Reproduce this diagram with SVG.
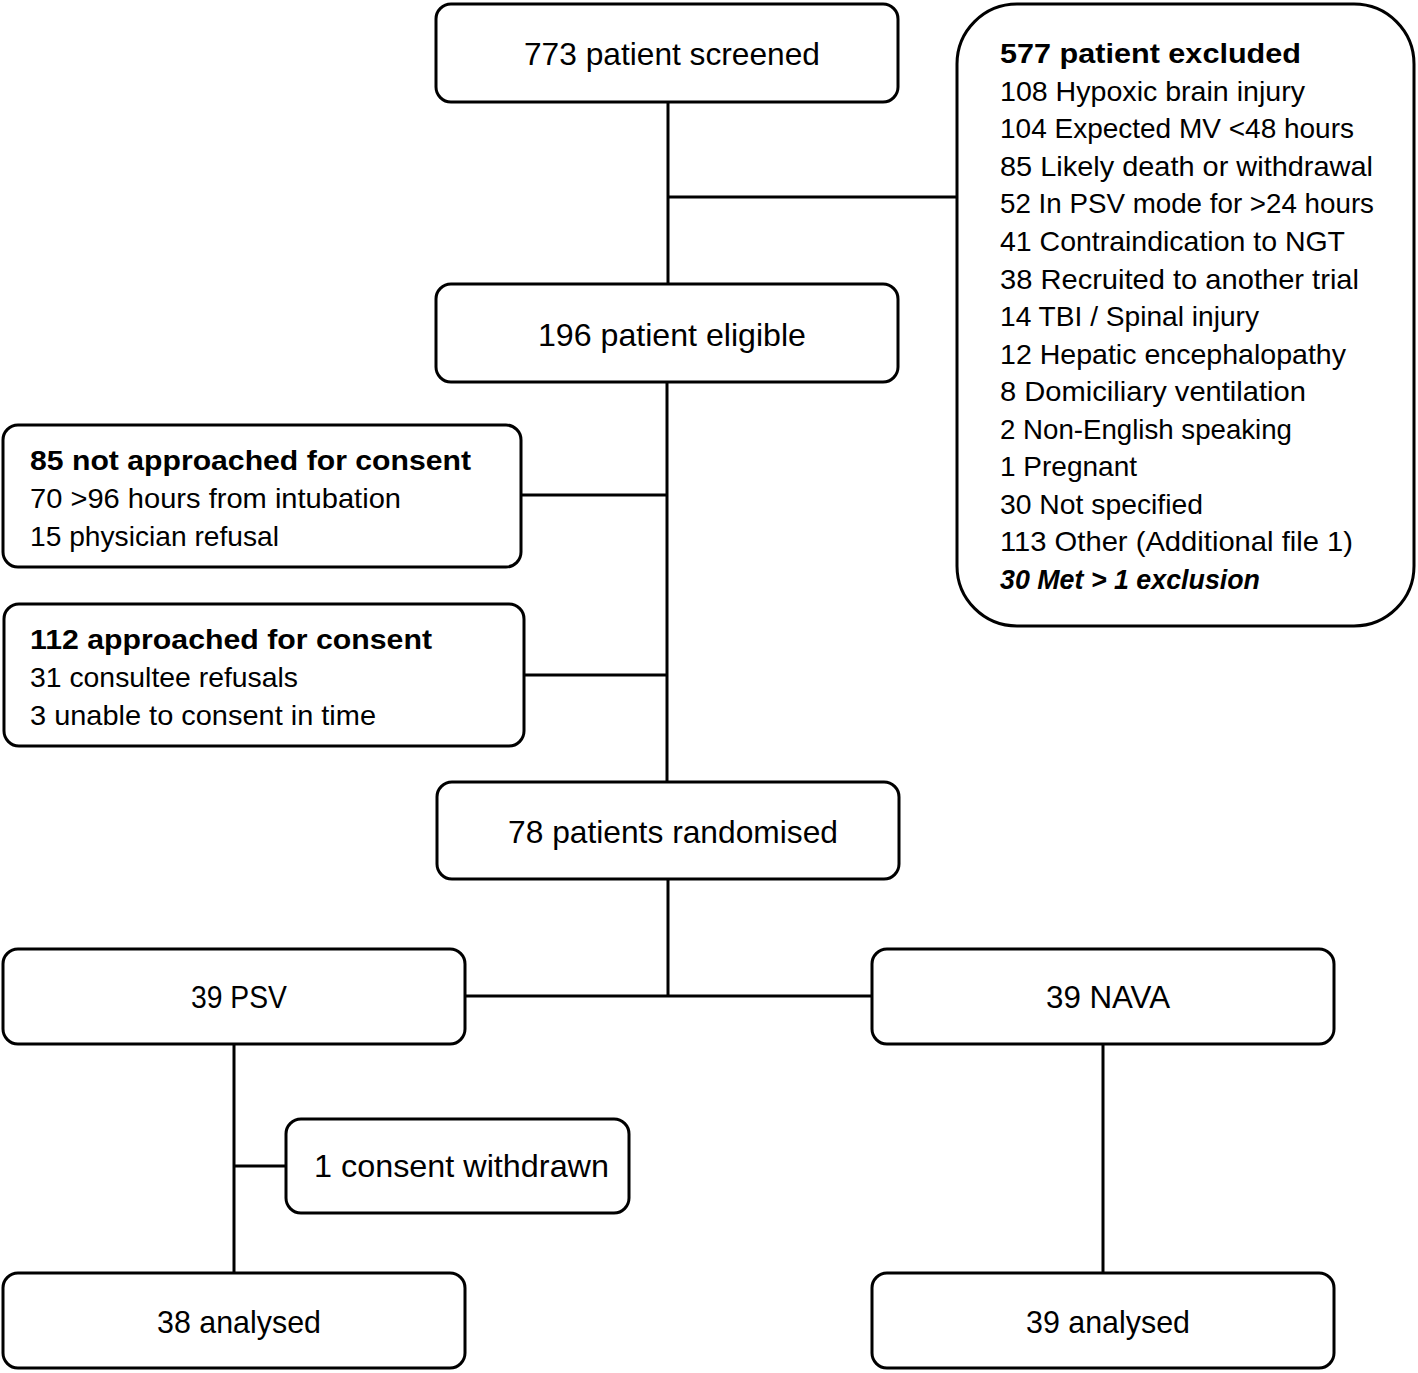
<svg xmlns="http://www.w3.org/2000/svg" width="1418" height="1373" viewBox="0 0 1418 1373">
<style>
.box{fill:#fff;stroke:#000;stroke-width:3}
.ln{stroke:#000;stroke-width:3;fill:none}
text{font-family:"Liberation Sans",Arial,sans-serif;fill:#000}
.c{font-size:31.5px;text-anchor:middle}
.l{font-size:28.5px}
.b{font-weight:bold}
.bi{font-weight:bold;font-style:italic}
</style>
<rect width="1418" height="1373" fill="#fff"/>
<g id="connectors">
<path class="ln" d="M668 102V284M668 197H957M667 382V782M521 495H667M524 675H667M668 879V996M465 996H872M234 1044V1273M234 1166H286M1103 1044V1273"/>
</g>
<g id="screened"><rect class="box" x="436" y="4" width="462" height="98" rx="15"/><text class="c" x="672" y="65" textLength="296" lengthAdjust="spacingAndGlyphs">773 patient screened</text></g>
<g id="excluded"><rect class="box" x="957" y="4" width="457" height="622" rx="60"/>
<text class="l b" x="1000" y="63" textLength="301" lengthAdjust="spacingAndGlyphs">577 patient excluded</text>
<text class="l" x="1000" y="101" textLength="305" lengthAdjust="spacingAndGlyphs">108 Hypoxic brain injury</text>
<text class="l" x="1000" y="138" textLength="354" lengthAdjust="spacingAndGlyphs">104 Expected MV &lt;48 hours</text>
<text class="l" x="1000" y="176" textLength="373" lengthAdjust="spacingAndGlyphs">85 Likely death or withdrawal</text>
<text class="l" x="1000" y="213" textLength="374" lengthAdjust="spacingAndGlyphs">52 In PSV mode for &gt;24 hours</text>
<text class="l" x="1000" y="251" textLength="345" lengthAdjust="spacingAndGlyphs">41 Contraindication to NGT</text>
<text class="l" x="1000" y="289" textLength="359" lengthAdjust="spacingAndGlyphs">38 Recruited to another trial</text>
<text class="l" x="1000" y="326" textLength="259" lengthAdjust="spacingAndGlyphs">14 TBI / Spinal injury</text>
<text class="l" x="1000" y="364" textLength="346" lengthAdjust="spacingAndGlyphs">12 Hepatic encephalopathy</text>
<text class="l" x="1000" y="401" textLength="306" lengthAdjust="spacingAndGlyphs">8 Domiciliary ventilation</text>
<text class="l" x="1000" y="439" textLength="292" lengthAdjust="spacingAndGlyphs">2 Non-English speaking</text>
<text class="l" x="1000" y="476" textLength="137" lengthAdjust="spacingAndGlyphs">1 Pregnant</text>
<text class="l" x="1000" y="514" textLength="203" lengthAdjust="spacingAndGlyphs">30 Not specified</text>
<text class="l" x="1000" y="551" textLength="353" lengthAdjust="spacingAndGlyphs">113 Other (Additional file 1)</text>
<text class="l bi" x="1000" y="589" textLength="260" lengthAdjust="spacingAndGlyphs">30 Met &gt; 1 exclusion</text>
</g>
<g id="eligible"><rect class="box" x="436" y="284" width="462" height="98" rx="15"/><text class="c" x="672" y="346" textLength="268" lengthAdjust="spacingAndGlyphs">196 patient eligible</text></g>
<g id="not-approached"><rect class="box" x="3" y="425" width="518" height="142" rx="15"/>
<text class="l b" x="30" y="470" textLength="441" lengthAdjust="spacingAndGlyphs">85 not approached for consent</text>
<text class="l" x="30" y="508" textLength="371" lengthAdjust="spacingAndGlyphs">70 &gt;96 hours from intubation</text>
<text class="l" x="30" y="546" textLength="249" lengthAdjust="spacingAndGlyphs">15 physician refusal</text>
</g>
<g id="approached"><rect class="box" x="4" y="604" width="520" height="142" rx="15"/>
<text class="l b" x="30" y="649" textLength="402" lengthAdjust="spacingAndGlyphs">112 approached for consent</text>
<text class="l" x="30" y="687" textLength="268" lengthAdjust="spacingAndGlyphs">31 consultee refusals</text>
<text class="l" x="30" y="725" textLength="346" lengthAdjust="spacingAndGlyphs">3 unable to consent in time</text>
</g>
<g id="randomised"><rect class="box" x="437" y="782" width="462" height="97" rx="15"/><text class="c" x="673" y="843" textLength="330" lengthAdjust="spacingAndGlyphs">78 patients randomised</text></g>
<g id="psv"><rect class="box" x="3" y="949" width="462" height="95" rx="15"/><text class="c" x="239" y="1008" textLength="96" lengthAdjust="spacingAndGlyphs">39 PSV</text></g>
<g id="nava"><rect class="box" x="872" y="949" width="462" height="95" rx="15"/><text class="c" x="1108" y="1008" textLength="124" lengthAdjust="spacingAndGlyphs">39 NAVA</text></g>
<g id="withdrawn"><rect class="box" x="286" y="1119" width="343" height="94" rx="15"/><text class="c" x="461.5" y="1177" textLength="295" lengthAdjust="spacingAndGlyphs">1 consent withdrawn</text></g>
<g id="analysed-psv"><rect class="box" x="3" y="1273" width="462" height="95" rx="15"/><text class="c" x="239" y="1333" textLength="164" lengthAdjust="spacingAndGlyphs">38 analysed</text></g>
<g id="analysed-nava"><rect class="box" x="872" y="1273" width="462" height="95" rx="15"/><text class="c" x="1108" y="1333" textLength="164" lengthAdjust="spacingAndGlyphs">39 analysed</text></g>
</svg>
